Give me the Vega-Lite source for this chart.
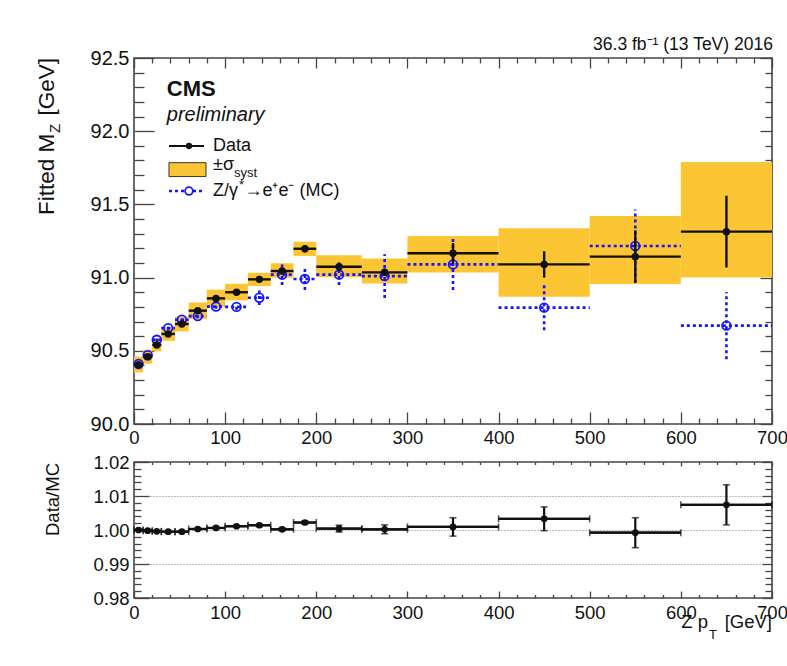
{
  "$schema": "https://vega.github.io/schema/vega-lite/v6.json",
  "padding": {"left": 35, "top": 35, "right": 10, "bottom": 10},
  "background": "white",
  "config": {
    "font": "Liberation Sans",
    "view": {"stroke": "#444", "strokeWidth": 1.6},
    "axis": {"domain": false, "grid": false, "labelColor": "#111", "tickColor": "#444", "tickWidth": 1.3, "labelFont": "Liberation Sans", "title": null, "labelOverlap": false},
    "text": {"font": "Liberation Sans", "color": "#111"}
  },
  "datasets": {
    "bins": [
      {"lo": 0, "hi": 10, "pt": 5, "data": 90.405, "dErr": 0.012, "sLo": 90.352, "sHi": 90.46, "mc": 90.41, "mcErr": 0.012},
      {"lo": 10, "hi": 20, "pt": 15, "data": 90.46, "dErr": 0.012, "sLo": 90.412, "sHi": 90.508, "mc": 90.47, "mcErr": 0.012},
      {"lo": 20, "hi": 30, "pt": 25, "data": 90.54, "dErr": 0.012, "sLo": 90.497, "sHi": 90.585, "mc": 90.575, "mcErr": 0.012},
      {"lo": 30, "hi": 45, "pt": 37.5, "data": 90.615, "dErr": 0.012, "sLo": 90.568, "sHi": 90.662, "mc": 90.655, "mcErr": 0.012},
      {"lo": 45, "hi": 60, "pt": 52.5, "data": 90.683, "dErr": 0.012, "sLo": 90.633, "sHi": 90.733, "mc": 90.712, "mcErr": 0.012},
      {"lo": 60, "hi": 80, "pt": 70, "data": 90.774, "dErr": 0.012, "sLo": 90.718, "sHi": 90.83, "mc": 90.737, "mcErr": 0.015},
      {"lo": 80, "hi": 100, "pt": 90, "data": 90.858, "dErr": 0.015, "sLo": 90.8, "sHi": 90.918, "mc": 90.802, "mcErr": 0.015},
      {"lo": 100, "hi": 125, "pt": 112.5, "data": 90.9, "dErr": 0.015, "sLo": 90.845, "sHi": 90.958, "mc": 90.8, "mcErr": 0.02},
      {"lo": 125, "hi": 150, "pt": 137.5, "data": 90.988, "dErr": 0.02, "sLo": 90.943, "sHi": 91.033, "mc": 90.862, "mcErr": 0.05},
      {"lo": 150, "hi": 175, "pt": 162.5, "data": 91.045, "dErr": 0.025, "sLo": 91.0, "sHi": 91.098, "mc": 91.02, "mcErr": 0.07},
      {"lo": 175, "hi": 200, "pt": 187.5, "data": 91.197, "dErr": 0.025, "sLo": 91.148, "sHi": 91.245, "mc": 90.99, "mcErr": 0.075},
      {"lo": 200, "hi": 250, "pt": 225, "data": 91.074, "dErr": 0.03, "sLo": 91.003, "sHi": 91.152, "mc": 91.02, "mcErr": 0.07},
      {"lo": 250, "hi": 300, "pt": 275, "data": 91.036, "dErr": 0.025, "sLo": 90.96, "sHi": 91.13, "mc": 91.01, "mcErr": 0.15},
      {"lo": 300, "hi": 400, "pt": 350, "data": 91.166, "dErr": 0.07, "sLo": 91.034, "sHi": 91.284, "mc": 91.09, "mcErr": 0.175},
      {"lo": 400, "hi": 500, "pt": 450, "data": 91.09, "dErr": 0.09, "sLo": 90.87, "sHi": 91.337, "mc": 90.795, "mcErr": 0.155},
      {"lo": 500, "hi": 600, "pt": 550, "data": 91.143, "dErr": 0.18, "sLo": 90.956, "sHi": 91.42, "mc": 91.216, "mcErr": 0.25},
      {"lo": 600, "hi": 700, "pt": 650, "data": 91.314, "dErr": 0.245, "sLo": 91.0, "sHi": 91.79, "mc": 90.672, "mcErr": 0.23}
    ],
    "ratio": [
      {"lo": 0, "hi": 10, "pt": 5, "r": 1.0, "rErr": 0.0003},
      {"lo": 10, "hi": 20, "pt": 15, "r": 0.9998, "rErr": 0.0003},
      {"lo": 20, "hi": 30, "pt": 25, "r": 0.9996, "rErr": 0.0003},
      {"lo": 30, "hi": 45, "pt": 37.5, "r": 0.9995, "rErr": 0.0003},
      {"lo": 45, "hi": 60, "pt": 52.5, "r": 0.9995, "rErr": 0.0003},
      {"lo": 60, "hi": 80, "pt": 70, "r": 1.0003, "rErr": 0.0003},
      {"lo": 80, "hi": 100, "pt": 90, "r": 1.0006, "rErr": 0.0003},
      {"lo": 100, "hi": 125, "pt": 112.5, "r": 1.0011, "rErr": 0.0003},
      {"lo": 125, "hi": 150, "pt": 137.5, "r": 1.0014, "rErr": 0.0004},
      {"lo": 150, "hi": 175, "pt": 162.5, "r": 1.0002, "rErr": 0.0005},
      {"lo": 175, "hi": 200, "pt": 187.5, "r": 1.0022, "rErr": 0.0005},
      {"lo": 200, "hi": 250, "pt": 225, "r": 1.0004, "rErr": 0.001},
      {"lo": 250, "hi": 300, "pt": 275, "r": 1.0002, "rErr": 0.0013},
      {"lo": 300, "hi": 400, "pt": 350, "r": 1.0009, "rErr": 0.0027},
      {"lo": 400, "hi": 500, "pt": 450, "r": 1.0033, "rErr": 0.0035},
      {"lo": 500, "hi": 600, "pt": 550, "r": 0.9992, "rErr": 0.0044},
      {"lo": 600, "hi": 700, "pt": 650, "r": 1.0074, "rErr": 0.0059}
    ]
  },
  "vconcat": [
    {
      "width": 638,
      "height": 366,
      "resolve": {"axis": {"x": "independent", "y": "independent"}},
      "layer": [
        {
          "data": {"name": "bins"},
          "mark": {"type": "rect", "color": "#fcc533"},
          "encoding": {
            "x": {"field": "lo", "type": "quantitative", "scale": {"domain": [0, 700], "nice": false, "zero": false},
              "axis": {"orient": "bottom", "title": null, "values": [0, 100, 200, 300, 400, 500, 600, 700],
                "tickSize": -12, "labelPadding": 16, "labelFontSize": 18.5, "labelFlush": false}},
            "x2": {"field": "hi"},
            "y": {"field": "sLo", "type": "quantitative", "scale": {"domain": [90, 92.5], "nice": false, "zero": false},
              "axis": {"orient": "left", "title": null, "values": [90, 90.5, 91, 91.5, 92, 92.5], "format": ".1f",
                "tickSize": -20, "labelPadding": 25, "labelFontSize": 20}},
            "y2": {"field": "sHi"}
          }
        },
        {
          "data": {"name": "bins"},
          "mark": {"type": "rule", "color": "#1414ff", "strokeWidth": 2.6, "strokeDash": [3, 3]},
          "encoding": {
            "x": {"field": "lo", "type": "quantitative",
              "axis": {"orient": "top", "title": null, "labels": false, "values": [0, 100, 200, 300, 400, 500, 600, 700], "tickSize": -10}},
            "x2": {"field": "hi"},
            "y": {"field": "mc", "type": "quantitative",
              "axis": {"orient": "right", "title": null, "labels": false, "values": [90, 90.5, 91, 91.5, 92, 92.5], "tickSize": -12}}
          }
        },
        {
          "data": {"name": "bins"},
          "mark": {"type": "errorbar", "color": "#1414ff", "rule": {"strokeWidth": 2.6, "strokeDash": [3, 3]}},
          "encoding": {
            "x": {"field": "pt", "type": "quantitative", "axis": null},
            "y": {"field": "mc", "type": "quantitative", "axis": null},
            "yError": {"field": "mcErr"}
          }
        },
        {
          "data": {"name": "bins"},
          "mark": {"type": "point", "shape": "circle", "filled": false, "color": "#1414ff", "strokeWidth": 1.8, "size": 75, "opacity": 1},
          "encoding": {
            "x": {"field": "pt", "type": "quantitative",
              "axis": {"orient": "bottom", "title": null, "labels": false, "tickSize": -6,
                "values": [20, 40, 60, 80, 120, 140, 160, 180, 220, 240, 260, 280, 320, 340, 360, 380, 420, 440, 460, 480, 520, 540, 560, 580, 620, 640, 660, 680]}},
            "y": {"field": "mc", "type": "quantitative",
              "axis": {"orient": "left", "title": null, "labels": false, "tickSize": -10,
                "values": [90.1, 90.2, 90.3, 90.4, 90.6, 90.7, 90.8, 90.9, 91.1, 91.2, 91.3, 91.4, 91.6, 91.7, 91.8, 91.9, 92.1, 92.2, 92.3, 92.4]}}
          }
        },
        {
          "data": {"name": "bins"},
          "mark": {"type": "rule", "color": "#111", "strokeWidth": 2.4},
          "encoding": {
            "x": {"field": "lo", "type": "quantitative",
              "axis": {"orient": "top", "title": null, "labels": false, "tickSize": -5,
                "values": [20, 40, 60, 80, 120, 140, 160, 180, 220, 240, 260, 280, 320, 340, 360, 380, 420, 440, 460, 480, 520, 540, 560, 580, 620, 640, 660, 680]}},
            "x2": {"field": "hi"},
            "y": {"field": "data", "type": "quantitative",
              "axis": {"orient": "right", "title": null, "labels": false, "tickSize": -7,
                "values": [90.1, 90.2, 90.3, 90.4, 90.6, 90.7, 90.8, 90.9, 91.1, 91.2, 91.3, 91.4, 91.6, 91.7, 91.8, 91.9, 92.1, 92.2, 92.3, 92.4]}}
          }
        },
        {
          "data": {"name": "bins"},
          "mark": {"type": "errorbar", "color": "#111", "rule": {"strokeWidth": 2.4}},
          "encoding": {
            "x": {"field": "pt", "type": "quantitative", "axis": null},
            "y": {"field": "data", "type": "quantitative", "axis": null},
            "yError": {"field": "dErr"}
          }
        },
        {
          "data": {"name": "bins"},
          "mark": {"type": "point", "shape": "circle", "filled": true, "color": "#111", "size": 55, "opacity": 1},
          "encoding": {
            "x": {"field": "pt", "type": "quantitative", "axis": null},
            "y": {"field": "data", "type": "quantitative", "axis": null}
          }
        },
        {
          "data": {"values": [{}]},
          "mark": {"type": "text", "text": "36.3 fb⁻¹ (13 TeV) 2016", "fontSize": 17.5, "align": "right", "baseline": "alphabetic", "dy": -8},
          "encoding": {"x": {"datum": 701, "axis": null}, "y": {"datum": 92.5, "axis": null}}
        },
        {
          "data": {"values": [{}]},
          "mark": {"type": "text", "text": "CMS", "fontSize": 22, "fontWeight": "bold", "align": "left", "baseline": "alphabetic"},
          "encoding": {"x": {"datum": 36, "axis": null}, "y": {"datum": 92.24, "axis": null}}
        },
        {
          "data": {"values": [{}]},
          "mark": {"type": "text", "text": "preliminary", "fontSize": 20, "fontStyle": "italic", "align": "left", "baseline": "alphabetic"},
          "encoding": {"x": {"datum": 36, "axis": null}, "y": {"datum": 92.07, "axis": null}}
        },
        {
          "data": {"values": [{}]},
          "mark": {"type": "rule", "color": "#111", "strokeWidth": 2},
          "encoding": {"x": {"datum": 38.4, "axis": null}, "x2": {"datum": 76.8}, "y": {"datum": 91.899, "axis": null}}
        },
        {
          "data": {"values": [{}]},
          "mark": {"type": "point", "shape": "circle", "filled": true, "color": "#111", "size": 40, "opacity": 1},
          "encoding": {"x": {"datum": 60.3, "axis": null}, "y": {"datum": 91.899, "axis": null}}
        },
        {
          "data": {"values": [{}]},
          "mark": {"type": "text", "text": "Data", "fontSize": 18, "align": "left", "baseline": "alphabetic"},
          "encoding": {"x": {"datum": 86.7, "axis": null}, "y": {"datum": 91.865, "axis": null}}
        },
        {
          "data": {"values": [{}]},
          "mark": {"type": "rect", "color": "#fcc533", "stroke": "#333", "strokeWidth": 1},
          "encoding": {"x": {"datum": 38.4, "axis": null}, "x2": {"datum": 79}, "y": {"datum": 91.785, "axis": null}, "y2": {"datum": 91.69}}
        },
        {
          "data": {"values": [{}]},
          "mark": {"type": "text", "text": "±σ", "fontSize": 18, "align": "left", "baseline": "alphabetic"},
          "encoding": {"x": {"datum": 86.7, "axis": null}, "y": {"datum": 91.735, "axis": null}}
        },
        {
          "data": {"values": [{}]},
          "mark": {"type": "text", "text": "syst", "fontSize": 13, "align": "left", "baseline": "alphabetic"},
          "encoding": {"x": {"datum": 109.7, "axis": null}, "y": {"datum": 91.684, "axis": null}}
        },
        {
          "data": {"values": [{}]},
          "mark": {"type": "rule", "color": "#1414ff", "strokeWidth": 2.6, "strokeDash": [3, 3]},
          "encoding": {"x": {"datum": 38.4, "axis": null}, "x2": {"datum": 76.8}, "y": {"datum": 91.5915, "axis": null}}
        },
        {
          "data": {"values": [{}]},
          "mark": {"type": "point", "shape": "circle", "filled": false, "color": "#1414ff", "strokeWidth": 1.8, "size": 60, "opacity": 1, "fill": "white", "fillOpacity": 1},
          "encoding": {"x": {"datum": 60.3, "axis": null}, "y": {"datum": 91.5915, "axis": null}}
        },
        {
          "data": {"values": [{}]},
          "mark": {"type": "text", "text": "Z/γ", "fontSize": 18, "align": "left", "baseline": "alphabetic"},
          "encoding": {"x": {"datum": 86.7, "axis": null}, "y": {"datum": 91.557, "axis": null}}
        },
        {
          "data": {"values": [{}]},
          "mark": {"type": "text", "text": "*", "fontSize": 13, "align": "left", "baseline": "alphabetic"},
          "encoding": {"x": {"datum": 115.2, "axis": null}, "y": {"datum": 91.605, "axis": null}}
        },
        {
          "data": {"values": [{}]},
          "mark": {"type": "text", "text": "→e⁺e⁻ (MC)", "fontSize": 18, "align": "left", "baseline": "alphabetic"},
          "encoding": {"x": {"datum": 121.2, "axis": null}, "y": {"datum": 91.557, "axis": null}}
        },
        {
          "data": {"values": [{}]},
          "mark": {"type": "text", "text": "Fitted M", "fontSize": 22.5, "angle": 270, "align": "left", "baseline": "alphabetic"},
          "encoding": {"x": {"datum": -87.4, "axis": null}, "y": {"datum": 91.4276, "axis": null}}
        },
        {
          "data": {"values": [{}]},
          "mark": {"type": "text", "text": "Z", "fontSize": 15, "angle": 270, "align": "left", "baseline": "alphabetic"},
          "encoding": {"x": {"datum": -81.7, "axis": null}, "y": {"datum": 91.988, "axis": null}}
        },
        {
          "data": {"values": [{}]},
          "mark": {"type": "text", "text": "[GeV]", "fontSize": 22.5, "angle": 270, "align": "right", "baseline": "alphabetic"},
          "encoding": {"x": {"datum": -87.4, "axis": null}, "y": {"datum": 92.5, "axis": null}}
        }
      ]
    },
    {
      "width": 638,
      "height": 136,
      "resolve": {"axis": {"x": "independent", "y": "independent"}},
      "layer": [
        {
          "data": {"name": "ratio"},
          "mark": {"type": "rule", "color": "#111", "strokeWidth": 2.2},
          "encoding": {
            "x": {"field": "lo", "type": "quantitative", "scale": {"domain": [0, 700], "nice": false, "zero": false},
              "axis": {"orient": "bottom", "title": null, "values": [0, 100, 200, 300, 400, 500, 600, 700],
                "tickSize": -7, "labelPadding": 12, "labelFontSize": 18.5, "labelFlush": false}},
            "x2": {"field": "hi"},
            "y": {"field": "r", "type": "quantitative", "scale": {"domain": [0.98, 1.02], "nice": false, "zero": false},
              "axis": {"orient": "left", "title": null, "values": [0.98, 0.99, 1, 1.01, 1.02], "format": ".2f",
                "tickSize": -15, "labelPadding": 20, "labelFontSize": 18.5}}
          }
        },
        {
          "data": {"name": "ratio"},
          "mark": {"type": "errorbar", "color": "#111", "rule": {"strokeWidth": 2.2}, "ticks": {"size": 7, "thickness": 1.6}},
          "encoding": {
            "x": {"field": "lo", "type": "quantitative",
              "axis": {"orient": "top", "title": null, "labels": false, "tickSize": -2.5,
                "values": [20, 40, 60, 80, 120, 140, 160, 180, 220, 240, 260, 280, 320, 340, 360, 380, 420, 440, 460, 480, 520, 540, 560, 580, 620, 640, 660, 680]}},
            "x2": {"field": "hi"},
            "y": {"field": "r", "type": "quantitative",
              "axis": {"orient": "right", "title": null, "labels": false, "tickSize": -7,
                "values": [0.982, 0.984, 0.986, 0.988, 0.992, 0.994, 0.996, 0.998, 1.002, 1.004, 1.006, 1.008, 1.012, 1.014, 1.016, 1.018]}}
          }
        },
        {
          "data": {"name": "ratio"},
          "mark": {"type": "errorbar", "color": "#111", "rule": {"strokeWidth": 2.2}, "ticks": {"size": 7, "thickness": 1.6}},
          "encoding": {
            "x": {"field": "pt", "type": "quantitative",
              "axis": {"orient": "top", "title": null, "labels": false, "values": [0, 100, 200, 300, 400, 500, 600, 700], "tickSize": -4}},
            "y": {"field": "r", "type": "quantitative",
              "axis": {"orient": "right", "title": null, "labels": false, "values": [0.98, 0.99, 1, 1.01, 1.02], "tickSize": -10,
                "grid": true, "gridDash": [1, 2], "gridColor": "#777", "gridWidth": 1}},
            "yError": {"field": "rErr"}
          }
        },
        {
          "data": {"name": "ratio"},
          "mark": {"type": "point", "shape": "circle", "filled": true, "color": "#111", "size": 45, "opacity": 1},
          "encoding": {
            "x": {"field": "pt", "type": "quantitative",
              "axis": {"orient": "bottom", "title": null, "labels": false, "tickSize": -3.5,
                "values": [20, 40, 60, 80, 120, 140, 160, 180, 220, 240, 260, 280, 320, 340, 360, 380, 420, 440, 460, 480, 520, 540, 560, 580, 620, 640, 660, 680]}},
            "y": {"field": "r", "type": "quantitative",
              "axis": {"orient": "left", "title": null, "labels": false, "tickSize": -7,
                "values": [0.982, 0.984, 0.986, 0.988, 0.992, 0.994, 0.996, 0.998, 1.002, 1.004, 1.006, 1.008, 1.012, 1.014, 1.016, 1.018]}}
          }
        },
        {
          "data": {"values": [{}]},
          "mark": {"type": "text", "text": "Data/MC", "fontSize": 18.5, "angle": 270, "align": "center", "baseline": "alphabetic"},
          "encoding": {"x": {"datum": -82.3, "axis": null}, "y": {"datum": 1.00897, "axis": null}}
        },
        {
          "data": {"values": [{}]},
          "mark": {"type": "text", "text": "Z p", "fontSize": 18.5, "align": "right", "baseline": "alphabetic"},
          "encoding": {"x": {"datum": 629.8, "axis": null}, "y": {"datum": 0.97118, "axis": null}}
        },
        {
          "data": {"values": [{}]},
          "mark": {"type": "text", "text": "T", "fontSize": 13, "align": "left", "baseline": "alphabetic"},
          "encoding": {"x": {"datum": 630.9, "axis": null}, "y": {"datum": 0.96794, "axis": null}}
        },
        {
          "data": {"values": [{}]},
          "mark": {"type": "text", "text": "[GeV]", "fontSize": 18.5, "align": "right", "baseline": "alphabetic"},
          "encoding": {"x": {"datum": 700, "axis": null}, "y": {"datum": 0.97118, "axis": null}}
        }
      ]
    }
  ],
  "spacing": 38,
  "bounds": "flush"
}
